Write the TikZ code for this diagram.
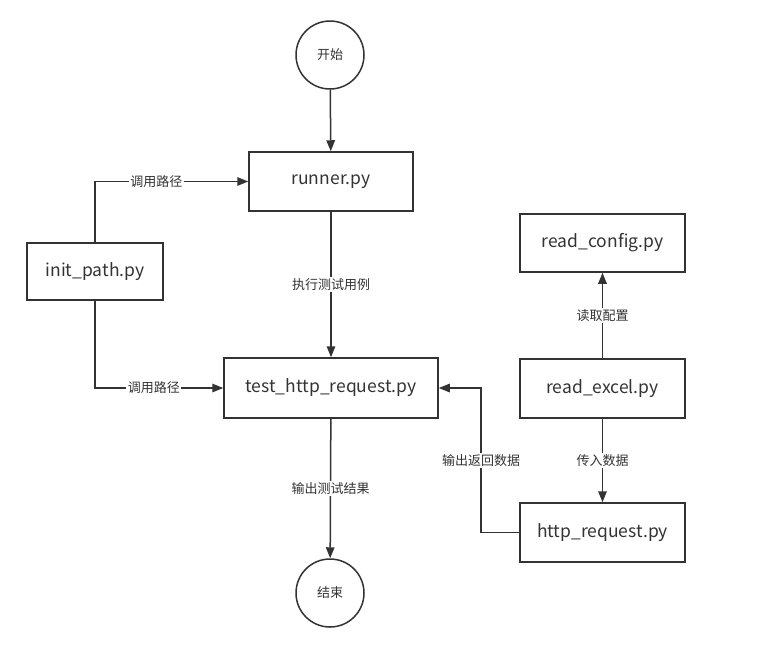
\documentclass[tikz,border=0pt]{standalone}
\usepackage{fontspec}
\setmainfont{Noto Sans CJK SC}
\usepackage{xcolor}
\usetikzlibrary{arrows.meta}
\definecolor{linegray}{HTML}{333333}

\begin{document}
\begin{tikzpicture}[x=1pt,y=-1pt,
	box/.style={draw=linegray,line width=1.5pt,minimum width=164pt,minimum height=59pt,text=linegray,font=\fontsize{17.5}{20}\selectfont},
	terminal/.style={draw=linegray,line width=1.5pt,circle,minimum size=68pt,text=linegray,font=\fontsize{13}{15}\selectfont},
	flow/.style={draw=linegray,line width=1.5pt,-{Triangle[length=11pt,width=8.5pt]}},
	lbl/.style={fill=white,inner sep=1.5pt,text=linegray,font=\fontsize{13}{15}\selectfont}]
	\useasboundingbox (0,0) rectangle (771,657);
	\node[terminal] (start) at (330,55) {开始};
	\node[box] (runner) at (331,181.5) {runner.py};
	\node[box,minimum width=136pt,minimum height=57pt] (initpath) at (95,271.5) {init\_path.py};
	\node[box,minimum width=214pt,minimum height=60pt] (testreq) at (331,388) {test\_http\_request.py};
	\node[terminal] (stop) at (330,593) {结束};
	\node[box,minimum width=165pt,minimum height=58pt] (readcfg) at (602.5,243) {read\_config.py};
	\node[box,minimum width=165pt] (readxls) at (602.5,388.5) {read\_excel.py};
	\node[box,minimum width=165pt] (httpreq) at (602.5,532.5) {http\_request.py};

	\draw[flow] (start) -- (runner);
	\draw[flow] (initpath.north) |- (runner.west) node[lbl,pos=0.7]{调用路径};
	\draw[flow] (initpath.south) |- (testreq.west) node[lbl,pos=0.73]{调用路径};
	\draw[flow] (runner) -- (testreq) node[lbl,midway]{执行测试用例};
	\draw[flow] (testreq) -- (stop) node[lbl,midway]{输出测试结果};
	\draw[flow] (readxls) -- (readcfg) node[lbl,midway]{读取配置};
	\draw[flow] (readxls) -- (httpreq) node[lbl,midway]{传入数据};
	\coordinate (bend) at (481,388);
	\draw[flow] (httpreq.west) -| (bend) node[lbl,pos=0.75]{输出返回数据} -- (testreq.east);
\end{tikzpicture}
\end{document}
